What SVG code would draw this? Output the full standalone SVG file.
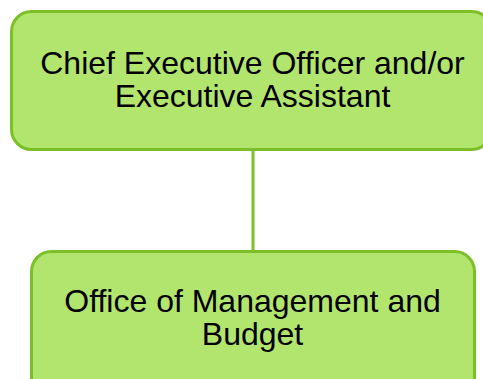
<svg xmlns="http://www.w3.org/2000/svg" width="483" height="379" viewBox="0 0 483 379">
<style>
.box{fill:#b2e56e;stroke:#7dbf29;stroke-width:3}
.lbl{font-family:"Liberation Sans",Arial,sans-serif;font-size:32px;fill:#000;text-anchor:middle}
.conn{stroke:#7dbf29;stroke-width:3;fill:none}
</style>
<g id="connectors">
<line class="conn" x1="253" y1="150" x2="253" y2="251"/>
</g>
<g id="ceo">
<rect class="box" x="11.5" y="11.5" width="480" height="138" rx="20"/>
<text class="lbl" x="252.5" y="74">Chief Executive Officer and/or</text>
<text class="lbl" x="252.5" y="107">Executive Assistant</text>
</g>
<g id="omb">
<rect class="box" x="31.5" y="251.5" width="443" height="150" rx="20"/>
<text class="lbl" x="252.5" y="312">Office of Management and</text>
<text class="lbl" x="252.5" y="345">Budget</text>
</g>
</svg>
